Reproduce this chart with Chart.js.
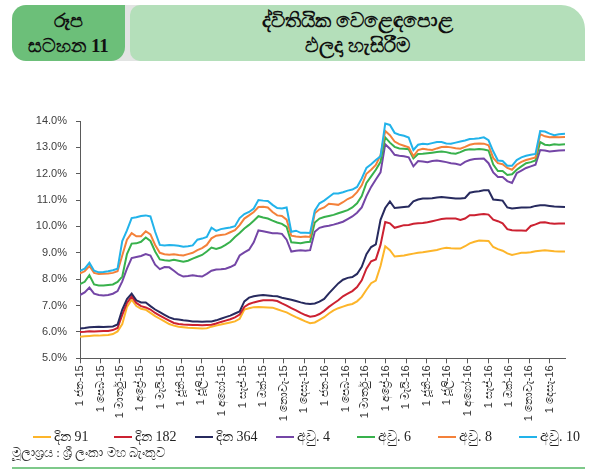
<!DOCTYPE html>
<html><head><meta charset="utf-8">
<script src="https://cdn.jsdelivr.net/npm/chart.js@4.4.0/dist/chart.umd.min.js"></script>
<style>
html,body{margin:0;padding:0;}
body{width:592px;height:472px;background:#fff;position:relative;overflow:hidden;font-family:"Liberation Serif","Noto Sans",serif;color:#222;}
#grey{position:absolute;left:110px;top:5px;width:30px;height:56px;background:#e2e4e3;}
#boxL{position:absolute;left:12px;top:5px;width:113px;height:56px;background:#6cbf79;border-radius:14px 0 14px 14px;text-align:center;font-weight:bold;font-size:19px;line-height:25px;padding-top:3px;box-sizing:border-box;color:#111;}
#boxR{position:absolute;left:130px;top:5px;width:455px;height:56px;background:#b4dfba;border-radius:10px 24px 0 10px;text-align:center;font-weight:bold;font-size:20px;line-height:25px;padding-top:3px;box-sizing:border-box;color:#111;}
#wrap{position:absolute;left:0;top:100px;width:592px;height:330px;}
#legend{position:absolute;left:33px;top:428px;height:18px;display:flex;font-size:14px;color:#222;}
.li{width:81px;display:flex;align-items:center;white-space:nowrap;}
.li i{display:inline-block;width:18px;height:2px;margin-right:3px;}
#src{position:absolute;left:12px;top:445px;font-size:13px;color:#333;}
#bline{position:absolute;left:12px;top:467px;width:573px;height:2px;background:#7ec98a;}
</style></head>
<body>
<div id="grey"></div>
<div id="boxL">රූප<br>සටහන 11</div>
<div id="boxR">ද්විතියික වෙළෙඳපොළ<br>ඵලදා හැසිරීම</div>
<div id="wrap"><canvas id="c" width="592" height="330"></canvas></div>
<div id="legend"></div>
<div id="src">මූලාශ්‍රය : ශ්‍රී ලංකා මහ බැංකුව</div>
<div id="bline"></div>
<script>
// x positions: days since 1 Jan 2015
const days = [0,7,14,21,28,35,42,49,56,63,70,77,84,
91,98,105,112,119,126,133,140,147,154,161,168,175,
182,189,196,203,210,217,224,231,238,245,252,259,266,
273,280,287,294,301,308,315,322,329,336,343,350,357,
364,371,378,385,392,399,406,413,420,427,434,441,448,
455,462,469,476,483,490,497,504,511,518,525,532,539,
546,553,560,567,574,581,588,595,602,609,616,623,630,
637,644,651,658,665,672,679,686,693,700,707,714,723];

const tickDays = [0,31,59,90,120,151,181,212,243,273,304,334,365,396,425,456,486,517,547,578,609,639,670,700];
const tickLabels = ["1 ජන-15","1 පෙබ-15","1 මාර්තු-15","1 අප්‍රේ-15","1 මැයි-15","1 ජූනි-15","1 ජූලි-15","1 අගෝ-15","1 සැප්-15","1 ඔක්-15","1 නොවැ-15","1 දෙසැ-15",
"1 ජන-16","1 පෙබ-16","1 මාර්තු-16","1 අප්‍රේ-16","1 මැයි-16","1 ජූනි-16","1 ජූලි-16","1 අගෝ-16","1 සැප්-16","1 ඔක්-16","1 නොවැ-16","1 දෙසැ-16"];

const seriesNames = ["දින 91","දින 182","දින 364","අවු. 4","අවු. 6","අවු. 8","අවු. 10"];
const seriesColors = ["#fdb52a","#cc2131","#272a5e","#7446a6","#38b14c","#f4813a","#22b3ea"];

const d91 = [5.82,5.84,5.85,5.86,5.86,5.87,5.88,5.92,6.02,6.30,6.95,7.22,6.98,
6.88,6.84,6.72,6.60,6.50,6.40,6.30,6.24,6.20,6.18,6.16,6.15,6.14,
6.13,6.14,6.20,6.24,6.28,6.32,6.36,6.40,6.50,6.85,6.90,6.94,6.95,
6.94,6.93,6.92,6.86,6.80,6.74,6.65,6.56,6.48,6.40,6.33,6.36,6.46,
6.56,6.70,6.82,6.90,6.96,7.02,7.06,7.16,7.33,7.60,7.85,7.95,8.50,
9.25,9.10,8.86,8.88,8.90,8.94,8.97,9.00,9.02,9.05,9.08,9.11,9.16,
9.19,9.17,9.16,9.16,9.25,9.36,9.42,9.47,9.46,9.45,9.22,9.14,9.08,
8.98,8.92,8.96,9.00,9.00,9.02,9.06,9.08,9.10,9.08,9.06,9.05,9.05];

const d182 = [6.00,6.01,6.03,6.02,6.03,6.04,6.04,6.07,6.15,6.65,7.10,7.35,7.10,
6.98,6.93,6.85,6.72,6.62,6.52,6.43,6.34,6.30,6.28,6.27,6.26,6.26,
6.25,6.26,6.27,6.32,6.38,6.43,6.48,6.55,6.66,6.95,7.06,7.12,7.16,
7.20,7.20,7.20,7.17,7.08,7.00,6.90,6.82,6.72,6.64,6.58,6.60,6.68,
6.80,6.95,7.08,7.20,7.35,7.45,7.55,7.70,7.96,8.40,8.68,8.75,9.30,
10.17,10.12,9.95,10.00,10.05,10.06,10.10,10.12,10.13,10.16,10.20,10.24,10.28,
10.30,10.30,10.30,10.25,10.30,10.43,10.43,10.45,10.47,10.45,10.26,10.20,10.12,
9.90,9.86,9.85,9.85,9.84,10.02,10.08,10.15,10.16,10.12,10.10,10.11,10.11];

const d364 = [6.13,6.15,6.18,6.19,6.20,6.19,6.20,6.21,6.28,6.85,7.25,7.45,7.20,
7.12,7.12,6.98,6.85,6.75,6.65,6.55,6.49,6.47,6.44,6.42,6.40,6.40,
6.39,6.40,6.40,6.44,6.50,6.56,6.62,6.70,6.78,7.16,7.30,7.35,7.38,
7.40,7.38,7.36,7.35,7.30,7.26,7.22,7.17,7.12,7.08,7.06,7.08,7.15,
7.25,7.46,7.65,7.84,7.98,8.05,8.08,8.20,8.47,8.95,9.22,9.32,10.25,
10.70,10.95,10.70,10.72,10.74,10.76,10.95,11.02,11.06,11.06,11.07,11.10,11.12,
11.10,11.08,11.06,11.06,11.08,11.28,11.32,11.34,11.37,11.37,11.02,11.00,10.98,
10.72,10.68,10.70,10.72,10.72,10.73,10.78,10.80,10.80,10.78,10.76,10.75,10.74];

const y4 = [7.40,7.50,7.68,7.45,7.40,7.38,7.40,7.45,7.55,7.92,8.40,8.80,8.84,
8.88,8.95,8.90,8.55,8.38,8.46,8.45,8.32,8.18,8.10,8.12,8.15,8.12,
8.10,8.20,8.32,8.37,8.38,8.40,8.46,8.55,8.90,9.02,9.12,9.40,9.85,
9.82,9.78,9.74,9.74,9.72,9.50,9.05,9.08,9.10,9.08,9.10,9.80,9.95,
10.00,10.03,10.07,10.12,10.18,10.28,10.38,10.52,10.72,11.15,11.50,11.78,12.05,
13.12,12.95,12.72,12.68,12.66,12.62,12.28,12.48,12.46,12.44,12.48,12.50,12.47,
12.44,12.40,12.38,12.33,12.45,12.52,12.56,12.57,12.58,12.40,12.05,11.88,11.88,
11.72,11.65,12.02,12.12,12.22,12.28,12.34,12.90,12.88,12.84,12.86,12.88,12.89];

const y6 = [7.81,7.90,8.15,7.80,7.76,7.76,7.78,7.80,7.90,8.10,8.95,9.35,9.36,
9.42,9.58,9.45,9.05,8.75,8.72,8.70,8.74,8.70,8.66,8.70,8.78,8.85,
8.92,9.05,9.20,9.15,9.20,9.30,9.42,9.60,9.75,9.92,10.06,10.22,10.39,
10.34,10.30,10.22,10.15,10.10,9.98,9.40,9.38,9.36,9.40,9.42,10.15,10.30,
10.36,10.40,10.44,10.50,10.56,10.62,10.72,10.88,11.15,11.65,11.90,12.15,12.45,
13.38,13.18,13.02,12.96,12.95,12.93,12.58,12.75,12.76,12.78,12.80,12.82,12.84,
12.82,12.78,12.76,12.82,12.90,12.93,12.92,12.94,12.92,12.88,12.35,12.10,12.10,
11.95,11.98,12.15,12.28,12.40,12.44,12.50,13.20,13.10,13.08,13.12,13.10,13.12];

const y8 = [8.22,8.30,8.50,8.24,8.20,8.21,8.22,8.24,8.30,8.90,9.50,9.75,9.63,
9.63,9.82,9.70,9.30,9.00,8.95,8.93,8.95,8.92,8.90,8.95,9.00,9.10,
9.18,9.30,9.55,9.65,9.68,9.70,9.78,9.86,10.05,10.30,10.42,10.55,10.74,
10.75,10.72,10.55,10.42,10.40,10.26,9.65,9.62,9.60,9.62,9.60,10.50,10.65,
10.72,10.86,10.84,10.82,10.92,11.04,11.12,11.30,11.56,12.00,12.15,12.33,12.70,
13.62,13.46,13.22,13.12,13.06,13.00,12.66,12.90,12.95,12.92,12.90,12.96,13.01,
13.02,13.00,12.97,12.95,13.02,13.10,13.14,13.15,13.14,13.08,12.60,12.40,12.36,
12.22,12.15,12.34,12.45,12.52,12.57,12.62,13.50,13.42,13.38,13.39,13.38,13.39];

const y10 = [8.32,8.40,8.62,8.32,8.26,8.27,8.30,8.34,8.40,9.45,9.85,10.32,10.35,
10.40,10.42,10.38,9.80,9.30,9.28,9.30,9.29,9.27,9.23,9.25,9.28,9.50,
9.54,9.60,9.95,9.83,9.90,9.93,9.96,10.01,10.32,10.47,10.55,10.68,11.00,
10.98,10.97,10.82,10.70,10.68,10.72,9.80,9.84,9.76,9.76,9.75,10.60,10.88,
10.98,11.12,11.25,11.25,11.30,11.36,11.40,11.50,11.82,12.22,12.36,12.52,12.66,
13.90,13.85,13.55,13.48,13.44,13.37,12.90,13.10,13.14,13.12,13.16,13.20,13.20,
13.15,13.14,13.18,13.22,13.26,13.32,13.33,13.35,13.38,13.27,12.85,12.50,12.48,
12.30,12.30,12.52,12.62,12.68,12.72,12.75,13.62,13.60,13.52,13.46,13.50,13.52];

const allSeries = [d91,d182,d364,y4,y6,y8,y10];

const datasets = allSeries.map((vals,k)=>({
  label: seriesNames[k],
  data: vals.map((v,i)=>({x:days[i], y:v})),
  borderColor: seriesColors[k],
  backgroundColor: seriesColors[k],
  borderWidth: 2,
  pointRadius: 0,
  tension: 0,
  fill: false,
  order: 6-k
}));

// HTML legend
const lg = document.getElementById('legend');
seriesNames.forEach((n,k)=>{
  const d = document.createElement('div'); d.className='li';
  d.innerHTML = '<i style="background:'+seriesColors[k]+'"></i><span>'+n+'</span>';
  lg.appendChild(d);
});

const axisCol = '#5a5a5a';
new Chart(document.getElementById('c'), {
  type: 'line',
  data: { datasets },
  options: {
    responsive: false,
    animation: false,
    layout: { padding: { top: 21, right: 27, left: 0, bottom: 0 } },
    plugins: { legend: { display: false }, tooltip: { enabled: false } },
    scales: {
      x: {
        type: 'linear', min: 0, max: 723,
        border: { display: true, color: axisCol, width: 1 },
        grid: { drawOnChartArea: false, drawTicks: true, tickLength: 5, color: axisCol },
        afterBuildTicks: s => { s.ticks = tickDays.map(v => ({ value: v })); },
        afterFit: s => { s.height = 71.7; },
        ticks: {
          autoSkip: false, maxRotation: 90, minRotation: 90, padding: 2,
          color: '#333', font: { family: 'Liberation Sans', size: 11 },
          callback: v => tickLabels[tickDays.indexOf(v)]
        }
      },
      y: {
        min: 5, max: 14,
        border: { display: true, color: axisCol, width: 1 },
        grid: { drawOnChartArea: false, drawTicks: true, tickLength: 4, color: axisCol },
        afterFit: s => { s.width = 80; },
        ticks: {
          stepSize: 1, padding: 9, color: '#404040',
          font: { family: 'Liberation Sans', size: 11 },
          callback: v => v.toFixed(1) + '%'
        }
      }
    }
  }
});
</script>
</body></html>
